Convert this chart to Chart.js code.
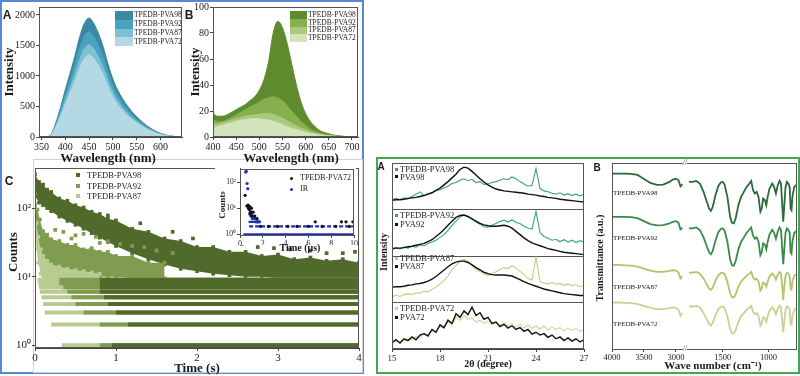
<!DOCTYPE html>
<html lang="en">
<head>
<meta charset="UTF-8">
<meta name="viewport" content="width=device-width, initial-scale=1.0">
<title>TPEDB-PVA films: PL, afterglow decay, XRD and FTIR</title>
<script src="https://cdn.jsdelivr.net/npm/chart.js"></script>
<style>
  body { margin: 0; background: #fff; }
  #page { position: relative; width: 800px; height: 376px; overflow: hidden; font-family: 'Liberation Serif', 'Times New Roman', serif; color: #1a1a1a; }
  #page canvas { position: absolute; }
  .box { position: absolute; box-sizing: border-box; }
  .t { position: absolute; transform: translate(-50%, -50%); white-space: nowrap; line-height: 1; }
  .v { transform: translate(-50%, -50%) rotate(-90deg); }
  .b { font-weight: bold; }
  .tag { font-family: 'Liberation Sans', Arial, sans-serif; font-weight: bold; }
  .lg { position: absolute; transform: translateY(-50%); white-space: nowrap; line-height: 1; color: #222; }
  .mk { position: absolute; }
  .brk { position: absolute; background: #fff; font-size: 8px; line-height: 8px; transform: translate(-50%, -50%); color: #444; }
</style>
</head>
<body>
<div id="page">
  <div class="box" style="left:0;top:0;width:364px;height:374px;border:2px solid #5b86d2"></div>
  <div class="box" style="left:33px;top:159px;width:330px;height:214px;border:1px solid #d0d0d0"></div>
  <div class="box" style="left:376px;top:157px;width:424px;height:217px;border:2px solid #46a556"></div>

  <canvas id="cA" width="190" height="170" style="left:0;top:0"></canvas>
  <canvas id="cB" width="188" height="170" style="left:180px;top:0"></canvas>
  <canvas id="cC" width="366" height="210" style="left:0;top:160px"></canvas>
  <canvas id="cIn" width="150" height="82" style="left:215px;top:163px"></canvas>
  <canvas id="cX" width="215" height="205" style="left:378px;top:158px"></canvas>
  <canvas id="cFL" width="95" height="205" style="left:595px;top:158px"></canvas>
  <canvas id="cFR" width="119" height="205" style="left:680px;top:158px"></canvas>
  <div class="box" style="left:612px;top:163px;width:185px;height:187px;border:1px solid #555"></div>
  <div class="brk" style="left:685px;top:163px">//</div>
  <div class="brk" style="left:685px;top:349px">//</div>

  <div class="t tag" style="left:7px;top:15px;font-size:12px">A</div>
  <div class="t tag" style="left:189px;top:15px;font-size:12px">B</div>
  <div class="t tag" style="left:9px;top:181px;font-size:12px">C</div>
  <div class="t tag" style="left:381px;top:167px;font-size:10px">A</div>
  <div class="t tag" style="left:597px;top:168px;font-size:10px">B</div>

  <div class="t v b" style="left:8px;top:72px;font-size:13px">Intensity</div>
  <div class="t b" style="left:108px;top:157px;font-size:13px">Wavelength (nm)</div>
  <div class="t v b" style="left:194px;top:72px;font-size:13px">Intensity</div>
  <div class="t b" style="left:291px;top:157px;font-size:13px">Wavelength (nm)</div>
  <div class="t v b" style="left:12px;top:252px;font-size:13px">Counts</div>
  <div class="t b" style="left:197px;top:367px;font-size:13px">Time (s)</div>
  <div class="t v b" style="left:222px;top:205px;font-size:9px">Counts</div>
  <div class="t b" style="left:300px;top:248px;font-size:10px">Time (μs)</div>
  <div class="t v b" style="left:384px;top:252px;font-size:10px">Intensity</div>
  <div class="t b" style="left:488px;top:364px;font-size:10px">2θ (degree)</div>
  <div class="t v b" style="left:600px;top:258px;font-size:10px">Transmittance (a.u.)</div>
  <div class="t b" style="left:713px;top:365px;font-size:11px">Wave number (cm⁻¹)</div>
</div>

<script>
// ---- A: fluorescence spectra ----
const wlA = [350,360,370,380,390,400,410,420,430,440,450,460,470,480,490,500,510,520,530,540,550,560,570,580,590,600,610,620,630,640];
const plA98 = [0,5,40,228,480,770,1040,1320,1630,1860,1950,1860,1690,1470,1190,950,770,630,515,415,330,258,192,138,94,60,35,18,8,3];
const plA92 = [0,4,35,202,425,681,920,1168,1443,1646,1726,1646,1496,1301,1053,841,681,558,456,367,292,228,170,122,83,53,31,16,7,3];
const plA87 = [0,4,31,177,372,597,806,1023,1263,1442,1511,1442,1310,1139,922,736,597,488,399,322,256,200,149,107,73,47,27,14,6,2];
const plA72 = [0,3,28,157,331,531,718,911,1125,1283,1346,1283,1166,1014,821,656,531,435,355,286,228,178,132,95,65,41,24,12,6,2];
const ticksAx = [350,400,450,500,550,600];
const ticksAy = [0,500,1000,1500,2000];

// ---- B: phosphorescence spectra ----
const wlB = [400,410,420,430,440,450,460,470,480,490,500,510,520,530,540,550,560,570,580,590,600,610,620,630,640,650,660,670,680,690,700,710];
const plB98 = [18,16,16,17,19,21,23,25,28,31,36,44,58,80,89,84,72,56,40,27,18,12,8,5,3.5,2.5,1.5,1,0.6,0.3,0.2,0];
const plB92 = [13,12,12,13,15,17,19,21,23,25,27,29,30,31,30,28,24,20,16,12,9,6,4.5,3,2,1.5,1,0.7,0.4,0.2,0.1,0];
const plB87 = [10,10,11,12,13,14,15,16,16.5,17,17.5,18,18,17.5,16,14.5,12.5,10.5,8.5,7,5.5,4,3,2.2,1.5,1,0.7,0.4,0.2,0.1,0.1,0];
const plB72 = [7,8,9,10,11,12,13,13.5,14,14,14,13.5,13,12,11,9.5,8,6.8,5.6,4.6,3.7,2.8,2.1,1.5,1,0.8,0.5,0.3,0.2,0.1,0.1,0];
const ticksBx = [400,450,500,550,600,650,700];
const ticksBy = [0,20,40,60,80,100];
const namesPL = ['TPEDB-PVA98','TPEDB-PVA92','TPEDB-PVA87','TPEDB-PVA72'];

// ---- C: afterglow decay (s) ----
const tC98 = [0,0.05,0.1,0.15,0.2,0.3,0.4,0.5,0.6,0.7,0.8,0.9,1.0,1.2,1.4,1.6,1.8,2.0,2.2,2.4,2.6,2.8,3.0,3.2,3.4,3.6,3.8,4.0];
const hi98 = [310,240,220,185,172,138,128,110,102,88,82,70,66,50,45,36,33,27,27,23,23,20,21,18,19,17,18,16];
const lo98 = [150,120,110,100,90,75,65,57,50,43,37,32,28,22,18,15,13,12,11,10.5,10,10,9.5,9.5,9,9,9,9];
const tC92 = [0,0.03,0.06,0.1,0.15,0.2,0.3,0.4,0.5,0.6,0.7,0.8,0.9,1.0,1.2,1.4,1.6];
const hi92 = [160,95,68,46,41,35,33,29,29,25,26,23,23,20,20,16,16];
const lo92 = [90,40,25,18,15,13,12,11,11,10.5,10.5,10,10,10,9.5,9.5,9.5];
const tC87 = [0,0.02,0.04,0.07,0.1,0.15,0.2,0.3,0.4,0.5,0.6,0.7,0.8];
const hi87 = [100,60,38,25,20,17,15,14,13,12.5,12,11.5,11];
const lo87 = [50,25,16,11,9.5,9,8.5,8.5,8.5,8.5,8.5,8.5,8.5];
const out98T = [0.9,1.3,1.7,1.95,2.3,2.55,2.75,2.95,3.15,3.4,3.6,3.8,3.95];
const out98C = [78,60,45,36,32,30,27,26,25,24,22,22,23];
const out92T = [0.25,0.35,0.45,0.5,0.6,0.75,0.8,0.9,1.05,1.2,1.35,1.5,1.7];
const out92C = [48,45,36,40,42,38,31,33,30,28,27,24,22];
// single-photon count levels, each running to the end of the window
const levelsC = [1,2,3,4,5,6,7,8,9];
const lvStart87 = [0.33,0.2,0.12,0.1,0.08,0.06,0.05,0.04,0.03];
const lvStart92 = [0.8,0.8,0.6,0.5,0.45,0.4,0.35,0.3,0.3];
const lvStart98 = [0.95,1.15,1.0,0.9,0.85,0.8,0.8,0.8,0.8];
const namesC = ['TPEDB-PVA98','TPEDB-PVA92','TPEDB-PVA87'];
const ticksCx = [0,1,2,3,4];
const ticksCy = [1,10,100];
const labelsCy = ['10⁰','10¹','10²'];

// ---- C inset (μs) ----
const irT = [0.5,0.55,0.62,0.68,0.75,0.8,0.85,0.9,0.95,1.0,1.05,1.1,1.2,1.3,1.4,1.5,1.6,1.7];
const irC = [240,255,88,56,12,9,6,11,5,7,5,4,5,4,3,3,3,3];
const p72T = [0.45,0.6,0.7,0.75,0.8,0.85,0.9,0.95,1.0,1.05,1.15,1.3,1.5,6.6,8.9,9.3,9.9,1.8,2.5,3.3,4.2,5.0,6.0,7.2,8.4,9.6];
const p72C = [31,12,13,10,12,9,7,6,10,5,7,5,4,3,3,3,3,2,2,2,2,2,2,2,2,2];
const irLevels = [1,3,4], irStart = [0.3,0.75,1.0], irEnd = [10,1.8,1.5];
const irDashLevels = [2], irDashStart = [0.8], irDashEnd = [10];
const ticksInX = [0,2,4,6,8,10];

// ---- XRD (normalised within each strip, top strip first) ----
const xrdX = [15,15.25,15.5,15.75,16,16.25,16.5,16.75,17,17.25,17.5,17.75,18,18.25,18.5,18.75,19,19.25,19.5,19.75,20,20.25,20.5,20.75,21,21.25,21.5,21.75,22,22.25,22.5,22.75,23,23.25,23.5,23.75,24,24.25,24.5,24.75,25,25.25,25.5,25.75,26,26.25,26.5,26.75,27];
const xrdT98 = [.20,.24,.21,.25,.23,.28,.33,.38,.30,.34,.36,.41,.42,.47,.50,.56,.58,.63,.66,.62,.65,.58,.60,.54,.55,.58,.60,.63,.66,.64,.70,.66,.60,.55,.50,.52,.88,.45,.40,.38,.35,.33,.36,.31,.34,.30,.33,.29,.33];
const xrdP98 = [.20,.21,.21,.22,.24,.25,.26,.28,.30,.33,.36,.41,.46,.53,.60,.68,.76,.86,.91,.89,.82,.74,.66,.59,.53,.48,.44,.42,.40,.39,.38,.37,.36,.35,.33,.32,.31,.29,.28,.26,.25,.24,.22,.21,.20,.19,.18,.17,.16];
const xrdT92 = [.14,.18,.15,.19,.17,.21,.19,.24,.22,.27,.30,.34,.40,.46,.55,.66,.75,.84,.88,.84,.80,.73,.68,.63,.62,.66,.70,.74,.77,.73,.78,.72,.70,.64,.60,.58,.96,.50,.42,.38,.34,.36,.31,.35,.30,.34,.29,.33,.30];
const xrdP92 = [.16,.17,.17,.18,.20,.21,.23,.25,.27,.31,.35,.42,.49,.57,.66,.75,.83,.87,.88,.85,.80,.75,.70,.67,.65,.64,.64,.65,.66,.64,.60,.53,.46,.39,.33,.28,.25,.22,.19,.16,.14,.12,.10,.08,.07,.06,.05,.04,.03];
const xrdT87 = [.12,.16,.13,.17,.19,.17,.21,.20,.24,.23,.28,.33,.40,.47,.57,.70,.80,.88,.93,.88,.80,.72,.66,.62,.58,.62,.66,.71,.75,.73,.79,.74,.67,.60,.52,.48,.98,.45,.42,.40,.43,.39,.41,.37,.40,.36,.38,.34,.36];
const xrdP87 = [.33,.34,.34,.35,.37,.38,.40,.41,.43,.46,.50,.56,.63,.70,.77,.83,.87,.89,.89,.86,.81,.75,.70,.65,.62,.60,.59,.59,.59,.58,.57,.53,.49,.45,.41,.38,.35,.32,.29,.27,.25,.23,.21,.19,.18,.17,.16,.15,.15];
const xrdT72 = [.12,.17,.14,.20,.22,.19,.27,.24,.33,.30,.40,.37,.48,.45,.58,.52,.68,.62,.72,.64,.66,.58,.62,.55,.60,.52,.58,.51,.56,.49,.55,.47,.53,.45,.52,.44,.50,.43,.49,.41,.47,.42,.46,.39,.45,.40,.44,.38,.42];
const xrdP72 = [.14,.20,.13,.22,.18,.26,.20,.30,.33,.28,.42,.36,.52,.46,.62,.55,.76,.68,.82,.74,.90,.72,.78,.64,.68,.55,.58,.48,.53,.45,.50,.42,.46,.38,.42,.32,.36,.30,.33,.25,.30,.22,.26,.18,.24,.17,.22,.15,.20];
const ticksXrd = [15,18,21,24,27];

// ---- FTIR (a.u.), split axis ----
const ftirLx = [4000,3900,3800,3700,3600,3500,3400,3300,3200,3100,3050,3000,2960,2930,2900];
const ftirL98 = [528,528,528,527,524,512,500,494,495,503,510,513,508,490,496];
const ftirL92 = [398,398,398,397,394,385,376,372,373,378,383,385,380,360,365];
const ftirL87 = [253,253,252,251,248,242,236,232,232,235,237,236,230,212,220];
const ftirL72 = [140,140,139,138,135,130,124,120,120,123,125,124,118,100,108];
const ftirRx = [1870,1830,1790,1750,1710,1680,1650,1630,1610,1580,1550,1520,1500,1480,1450,1420,1400,1380,1360,1330,1300,1270,1240,1210,1190,1170,1150,1130,1110,1090,1075,1060,1040,1025,1010,990,960,940,920,900,880,865,850,840,830,815,800,785,770,760,750,740,720,700,690];
const ftirR98 = [503,503,506,498,473,448,423,416,428,463,490,502,503,495,458,398,380,378,393,433,458,473,488,498,506,478,468,473,458,413,423,453,448,433,458,483,498,488,468,493,506,498,428,383,428,488,503,498,488,423,418,458,488,493,490];
const ftirR92 = [363,363,366,358,336,313,291,285,295,327,351,362,363,356,323,269,252,251,264,300,323,336,350,359,366,341,332,336,323,282,291,318,314,300,323,345,359,350,332,354,366,359,296,255,296,350,363,359,350,291,287,323,350,354,351];
const ftirR87 = [230,230,232,227,212,197,182,178,185,206,222,229,230,225,203,167,156,155,164,188,203,212,221,227,232,215,209,212,203,176,182,200,197,188,203,218,227,221,209,224,232,227,185,148,185,221,230,227,221,182,179,203,221,224,222];
const ftirR72 = [128,128,130,125,108,92,76,71,79,102,120,127,128,123,99,60,48,47,57,82,99,108,118,125,130,112,105,108,99,70,76,95,92,82,99,115,125,118,105,122,130,125,79,50,79,118,128,125,118,76,73,99,118,122,120];
const ticksFL = [4000,3500,3000];
const ticksFR = [1500,1000];

const colA = ['#3a88a1','#4aa3be','#7dbfd3','#b4d9e5'];
const colB = ['#5f8b2f','#86b04e','#a9c97c','#d3e3bc'];
const colC = ['#4f6a2b','#7f9c50','#b8cc91'];
const colX = ['#3f9f72','#35a873','#bdd17f','#c5d99a'];
const colF = ['#2c6a3a','#3a8a4a','#b3c46a','#c6d394'];
const irBlue = '#2130b8';

Chart.defaults.font.family = "'Liberation Serif', 'Times New Roman', serif";
Chart.defaults.color = '#1a1a1a';
Chart.defaults.animation = false;
Chart.defaults.responsive = false;
Chart.defaults.plugins.legend.display = false;
Chart.defaults.plugins.tooltip.enabled = false;
Chart.defaults.elements.point.radius = 0;

Chart.register({
  id: 'frame',
  defaults: { show: true, color: '#555' },
  afterDraw(chart, args, opts) {
    if (!opts.show) return;
    const a = chart.chartArea, c = chart.ctx;
    c.save();
    c.strokeStyle = opts.color;
    c.lineWidth = 1;
    c.strokeRect(Math.round(a.left) + 0.5, Math.round(a.top) + 0.5, Math.round(a.right - a.left) - 1, Math.round(a.bottom - a.top) - 1);
    c.restore();
  }
}, {
  id: 'paper',
  defaults: { fill: false },
  beforeDraw(chart, args, opts) {
    if (!opts.fill) return;
    const c = chart.ctx;
    c.save();
    c.fillStyle = '#fff';
    c.fillRect(0, 0, chart.chartArea.right + 2, chart.height);
    c.restore();
  }
});

const pts = (xs, ys) => xs.map((x, i) => ({ x: x, y: ys[i] }));
const lifted = (xs, ys, dy) => xs.map((x, i) => ({ x: x, y: ys[i] + dy }));
function segs(levels, starts, ends) {
  const out = [];
  levels.forEach((lv, i) => { out.push({ x: starts[i], y: lv }, { x: ends[i], y: lv }, { x: ends[i], y: null }); });
  return out;
}

function axis(type, min, max, tickVals, fit, size, horiz, extra) {
  const a = {
    type: type, min: min, max: max,
    afterBuildTicks: s => { s.ticks = tickVals.map(v => ({ value: v })); },
    grid: { drawOnChartArea: false, tickLength: 3, color: '#444' },
    border: { color: '#444' },
    ticks: { font: { size: size }, color: '#1a1a1a', padding: 1, autoSkip: false, maxRotation: 0, callback: v => String(v) }
  };
  a.afterFit = horiz ? (s => { s.height = fit; }) : (s => { s.width = fit; });
  return Object.assign(a, extra || {});
}

// A
new Chart(document.getElementById('cA'), {
  type: 'line',
  data: { datasets: [plA98, plA92, plA87, plA72].map((ys, i) => ({
    data: pts(wlA, ys), fill: 'origin', backgroundColor: colA[i], borderColor: colA[i],
    borderWidth: 1, cubicInterpolationMode: 'monotone', order: 4 - i })) },
  options: {
    layout: { padding: { top: 6, right: 8, left: 0, bottom: 0 } },
    scales: { x: axis('linear', 345, 645, ticksAx, 33, 10, true), y: axis('linear', 0, 2130, ticksAy, 39, 10, false) }
  }
});

// B
new Chart(document.getElementById('cB'), {
  type: 'line',
  data: { datasets: [plB98, plB92, plB87, plB72].map((ys, i) => ({
    data: pts(wlB, ys), fill: 'origin', backgroundColor: colB[i], borderColor: colB[i],
    borderWidth: 1, cubicInterpolationMode: 'monotone', order: 4 - i })) },
  options: {
    layout: { padding: { top: 6, right: 10, left: 0, bottom: 0 } },
    scales: { x: axis('linear', 400, 713, ticksBx, 33, 10, true), y: axis('linear', 0, 100, ticksBy, 33, 10, false) }
  }
});

// C
const band = (ts, ys, col, ord, fill) => ({
  data: pts(ts, ys), borderWidth: 0, fill: fill ? '+1' : false, backgroundColor: col,
  pointRadius: 2.6, pointStyle: 'rect', pointBackgroundColor: col, pointBorderWidth: 0, order: ord });
const dots = (ts, ys, col, ord) => ({
  data: pts(ts, ys), showLine: false, pointRadius: 2.6, pointStyle: 'rect',
  pointBackgroundColor: col, pointBorderWidth: 0, order: ord });
const ends4 = levelsC.map(() => 4);
new Chart(document.getElementById('cC'), {
  type: 'line',
  data: { datasets: [
    band(tC98, hi98, colC[0], 10, true), band(tC98, lo98, colC[0], 10, false),
    band(tC92, hi92, colC[1], 9, true), band(tC92, lo92, colC[1], 9, false),
    band(tC87, hi87, colC[2], 8, true), band(tC87, lo87, colC[2], 8, false),
    { data: segs(levelsC, lvStart87, ends4), borderColor: colC[2], borderWidth: 4, order: 7 },
    { data: segs(levelsC, lvStart92, ends4), borderColor: colC[1], borderWidth: 4, order: 6 },
    { data: segs(levelsC, lvStart98, ends4), borderColor: colC[0], borderWidth: 4, order: 5 },
    dots(out92T, out92C, colC[1], 4),
    dots(out98T, out98C, colC[0], 3)
  ] },
  options: {
    layout: { padding: { top: 8, right: 7, left: 0, bottom: 0 } },
    scales: {
      x: axis('linear', 0, 4, ticksCx, 22, 11, true),
      y: axis('logarithmic', 0.91, 384, ticksCy, 35, 11, false, {}),
    }
  }
});

// C inset
new Chart(document.getElementById('cIn'), {
  type: 'line',
  data: { datasets: [
    { data: segs(irLevels, irStart, irEnd), borderColor: irBlue, borderWidth: 2.2, order: 4 },
    { data: segs(irDashLevels, irDashStart, irDashEnd), borderColor: irBlue, borderWidth: 2.2, borderDash: [4, 2], order: 3 },
    { data: pts(irT, irC), showLine: false, pointRadius: 1.6, pointBackgroundColor: irBlue, pointBorderWidth: 0, order: 2 },
    { data: pts(p72T, p72C), showLine: false, pointRadius: 1.6, pointBackgroundColor: '#111', pointBorderWidth: 0, order: 1 }
  ] },
  options: {
    layout: { padding: { top: 5, right: 11, left: 0, bottom: 0 } },
    plugins: { paper: { fill: true } },
    scales: {
      x: axis('linear', 0, 10, ticksInX, 10, 8, true, {}),
      y: axis('logarithmic', 0.94, 330, ticksCy, 25, 7.5, false, {})
    }
  }
});

// XRD
const xrdTP = [xrdT98, xrdT92, xrdT87, xrdT72];
const xrdPV = [xrdP98, xrdP92, xrdP87, xrdP72];
const xrdSets = [];
xrdTP.forEach((ys, k) => {
  xrdSets.push({ data: lifted(xrdX, ys, 3 - k), borderColor: colX[k], borderWidth: 1.1, order: 2 });
  xrdSets.push({ data: lifted(xrdX, xrdPV[k], 3 - k), borderColor: '#111', borderWidth: 1.4, order: 1 });
});
new Chart(document.getElementById('cX'), {
  type: 'line',
  data: { datasets: xrdSets },
  options: {
    layout: { padding: { top: 5, right: 9, left: 0, bottom: 0 } },
    scales: {
      x: axis('linear', 15, 27, ticksXrd, 14, 9, true),
      y: axis('linear', 0, 4, [1, 2, 3], 14, 9, false, {
        grid: { drawOnChartArea: true, drawTicks: false, color: '#555' },
        ticks: { display: false }
      })
    }
  }
});

// FTIR, two halves of the broken axis
const ftirL = [ftirL98, ftirL92, ftirL87, ftirL72];
const ftirR = [ftirR98, ftirR92, ftirR87, ftirR72];
new Chart(document.getElementById('cFL'), {
  type: 'line',
  data: { datasets: ftirL.map((ys, i) => ({ data: pts(ftirLx, ys), borderColor: colF[i], borderWidth: 1.8 })) },
  options: {
    layout: { padding: { top: 5, right: 7, left: 17, bottom: 0 } },
    plugins: { frame: { show: false } },
    scales: {
      x: axis('linear', 2890, 4000, ticksFL, 14, 8.5, true, { reverse: true, border: { display: false } }),
      y: { display: false, min: 0, max: 560 }
    }
  }
});
new Chart(document.getElementById('cFR'), {
  type: 'line',
  data: { datasets: ftirR.map((ys, i) => ({ data: pts(ftirRx, ys), borderColor: colF[i], borderWidth: 1.8 })) },
  options: {
    layout: { padding: { top: 5, right: 2, left: 8, bottom: 0 } },
    plugins: { frame: { show: false } },
    scales: {
      x: axis('linear', 690, 1880, ticksFR, 14, 8.5, true, { reverse: true, border: { display: false } }),
      y: { display: false, min: 0, max: 560 }
    }
  }
});

// log tick labels
Chart.getChart('cC').options.scales.y.ticks.callback = (v, i) => labelsCy[i];
Chart.getChart('cC').update();
Chart.getChart('cIn').options.scales.y.ticks.callback = (v, i) => labelsCy[i];
Chart.getChart('cIn').update();

// legends
const page = document.getElementById('page');
function legend(x, ys, names, colors, mk) {
  names.forEach((n, i) => {
    const m = document.createElement('div');
    m.className = 'mk';
    Object.assign(m.style, { left: mk.x + 'px', top: (ys[i] - mk.h / 2) + 'px', width: mk.w + 'px', height: mk.h + 'px',
      background: colors[i], borderRadius: mk.round ? '50%' : '0' });
    page.appendChild(m);
    const t = document.createElement('div');
    t.className = 'lg';
    t.textContent = n;
    Object.assign(t.style, { left: x + 'px', top: ys[i] + 'px', fontSize: mk.fs + 'px' });
    page.appendChild(t);
  });
}
legend(134, [15.4, 24.2, 33, 41.8], namesPL, colA, { x: 115, w: 18, h: 8.8, fs: 7.5 });
legend(308, [15, 22.7, 30.4, 38.1], namesPL, colB, { x: 290, w: 17, h: 7.7, fs: 7.5 });
legend(87, [175, 185.7, 195.7], namesC, colC, { x: 76, w: 4, h: 4, fs: 8.5 });
legend(300, [178, 189], ['TPEDB-PVA72', 'IR'], ['#111', irBlue], { x: 289.5, w: 3, h: 3, round: true, fs: 8 });
const xrdLegY = [[169.3, 176.5], [215, 224], [258.3, 266], [308.3, 317]];
namesPL.forEach((n, k) => {
  legend(400, xrdLegY[k], [n, n.replace('TPEDB-', '')], [colX[k], '#111'], { x: 395, w: 3, h: 3, fs: 8.5 });
});
const ftirLabY = [193, 238, 287, 324];
namesPL.forEach((n, k) => {
  const t = document.createElement('div');
  t.className = 'lg';
  t.textContent = n;
  Object.assign(t.style, { left: '613px', top: ftirLabY[k] + 'px', fontSize: '7px' });
  page.appendChild(t);
});
</script>
</body>
</html>
